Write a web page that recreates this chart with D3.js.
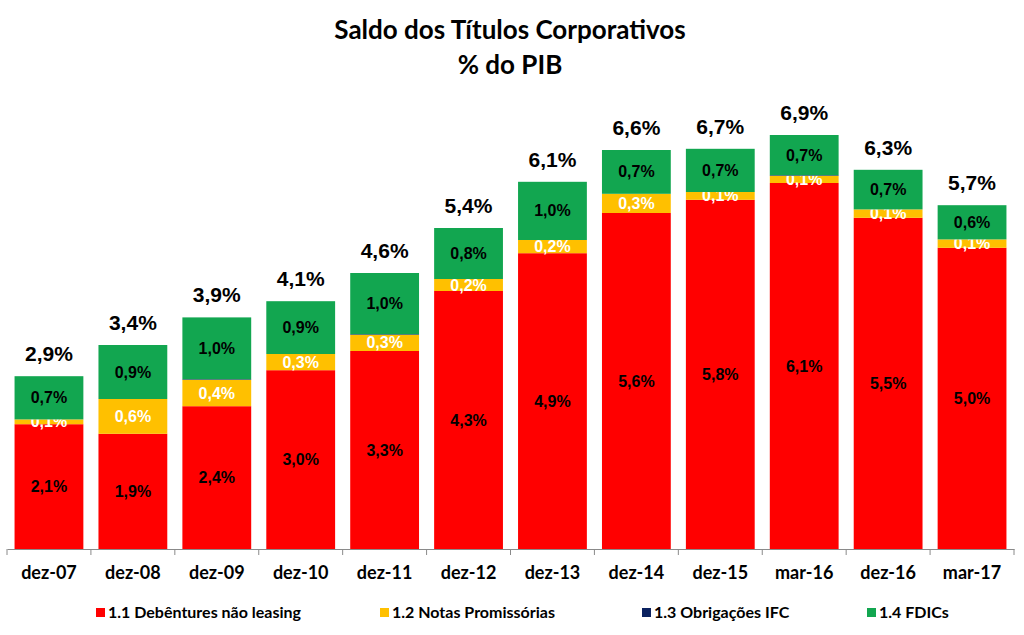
<!DOCTYPE html>
<html><head><meta charset="utf-8">
<script src="https://cdn.jsdelivr.net/npm/d3@7"></script>
<style>body{margin:0;background:#fff}svg{display:block}</style>
</head><body>
<svg id="c" width="1024" height="635"></svg>
<script>
const categories = ["dez-07","dez-08","dez-09","dez-10","dez-11","dez-12","dez-13","dez-14","dez-15","mar-16","dez-16","mar-17"];
const debentures = [2.08,1.92,2.38,2.98,3.30,4.30,4.93,5.60,5.82,6.10,5.52,5.02];
const notas      = [0.08,0.58,0.44,0.27,0.27,0.20,0.22,0.32,0.13,0.12,0.14,0.14];
const ifc        = [0.00,0.00,0.01,0.00,0.01,0.00,0.00,0.00,0.00,0.01,0.00,0.00];
const fdics      = [0.72,0.90,1.03,0.88,1.02,0.85,0.97,0.73,0.72,0.67,0.66,0.57];
const totals     = [2.9,3.4,3.9,4.1,4.6,5.4,6.1,6.6,6.7,6.9,6.3,5.7];
const seriesNames = ["1.1 Debêntures não leasing","1.2 Notas Promissórias","1.3 Obrigações IFC","1.4 FDICs"];
const seriesKeys = ["deb","np","ifc","fdic"];
const colors = ["#ff0000","#ffc000","#0b2260","#12a650"];
const labelColors = ["#000","#fff",null,"#000"];

const rows = categories.map((c,i)=>({cat:c, deb:debentures[i], np:notas[i], ifc:ifc[i], fdic:fdics[i], total:totals[i]}));
const svg = d3.select("#c");
const x = d3.scaleBand().domain(categories).range([7,1014]).paddingInner(0.18).paddingOuter(0.09);
const y = d3.scaleLinear().domain([0,7.5]).range([549,99]);
const stack = d3.stack().keys(seriesKeys)(rows);
const fmt = v => d3.format(".1f")(v).replace(".",",") + "%";
const calibri = "Lato, 'Open Sans', sans-serif";
const arial = "'Liberation Sans', Arial, sans-serif";

svg.append("text").attr("x",510).attr("y",39).attr("text-anchor","middle")
  .attr("font-family",calibri).attr("font-weight","bold").attr("font-size",26).attr("fill","#000")
  .text("Saldo dos Títulos Corporativos");
svg.append("text").attr("x",510).attr("y",74).attr("text-anchor","middle")
  .attr("font-family",calibri).attr("font-weight","bold").attr("font-size",26).attr("fill","#000")
  .text("% do PIB");

stack.forEach((layer,si)=>{
  const g = svg.append("g");
  g.selectAll("rect").data(layer).join("rect")
    .attr("x",d=>x(d.data.cat)).attr("width",x.bandwidth())
    .attr("y",d=>y(d[1])).attr("height",d=>Math.max(0,y(d[0])-y(d[1])))
    .attr("fill",colors[si]);
  if(labelColors[si]){
    g.selectAll("text").data(layer).join("text")
      .attr("x",d=>x(d.data.cat)+x.bandwidth()/2)
      .attr("y",d=>(y(d[0])+y(d[1]))/2+5.5)
      .attr("text-anchor","middle").attr("font-family",arial).attr("font-weight","bold")
      .attr("font-size",16).attr("fill",labelColors[si])
      .text(d=>fmt(d[1]-d[0]));
  }
});

svg.append("g").selectAll("text").data(rows).join("text")
  .attr("x",d=>x(d.cat)+x.bandwidth()/2)
  .attr("y",d=>y(d3.sum(seriesKeys,k=>d[k]))-15)
  .attr("text-anchor","middle").attr("font-family",arial).attr("font-weight","bold")
  .attr("font-size",21).attr("fill","#000").text(d=>fmt(d.total));

// axis
const ax = svg.append("g").attr("transform","translate(0,549)");
const axis = d3.axisBottom(x).tickSize(0).tickPadding(17);
ax.call(axis);
ax.select(".domain").attr("stroke","#8a8a8a");
ax.selectAll(".tick text").attr("font-family",calibri).attr("font-weight","bold").attr("font-size",18).attr("fill","#000");
const bounds = d3.range(categories.length+1).map(i=>x.range()[0]+i*x.step());
ax.selectAll(".bt").data(bounds).join("line").attr("class","bt")
  .attr("x1",d=>d).attr("x2",d=>d).attr("y1",0).attr("y2",6).attr("stroke","#8a8a8a");

// legend
const legX = [96,380,642,867];
const lg = svg.append("g");
seriesNames.forEach((n,i)=>{
  lg.append("rect").attr("x",legX[i]).attr("y",608).attr("width",9).attr("height",9).attr("fill",colors[i]);
  lg.append("text").attr("x",legX[i]+12).attr("y",618).attr("font-family",calibri).attr("font-weight","bold")
    .attr("font-size",16).attr("fill","#000").text(n);
});
</script>
</body></html>
